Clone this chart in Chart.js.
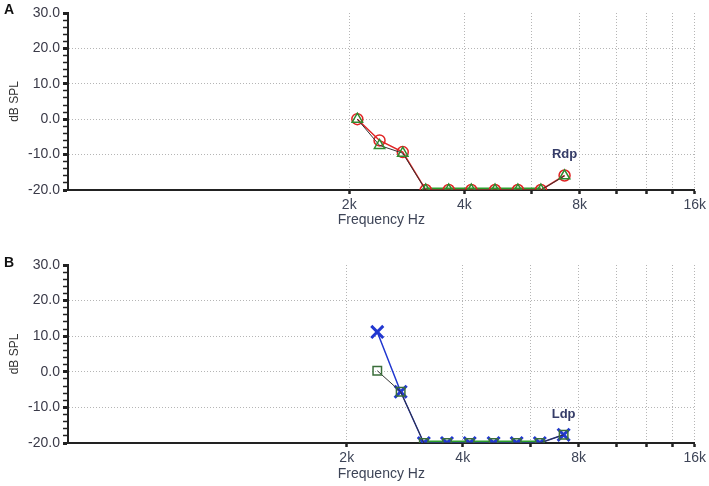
<!DOCTYPE html>
<html>
<head>
<meta charset="utf-8">
<script src="https://cdn.jsdelivr.net/npm/chart.js@4.4.1/dist/chart.umd.min.js"></script>
<style>
  html, body { margin: 0; padding: 0; background: #fff; }
  body { width: 709px; height: 486px; position: relative; overflow: hidden; font-family: "Liberation Sans", Arial, sans-serif; }
  .panel { position: absolute; left: 0; width: 709px; height: 243px; }
  .tag { position: absolute; left: 4px; font-weight: bold; font-size: 14px; line-height: 14px; color: #111; }
</style>
</head>
<body>
<div class="panel" style="top:0"><canvas id="chartA" width="709" height="243"></canvas></div>
<div class="panel" style="top:243px"><canvas id="chartB" width="709" height="243"></canvas></div>
<div class="tag" style="top:2px">A</div>
<div class="tag" style="top:255px">B</div>
<script>
// パネルA: 周波数 (Hz) と dB SPL
const freqA   = [2100, 2400, 2760, 3170, 3640, 4170, 4810, 5520, 6340, 7310];
const rightA  = [0, -6, -9.3, -20, -20, -20, -20, -20, -20, -15.9];
const leftA   = [0, -7.4, -9.6, -20, -20, -20, -20, -20, -20, -16];
const floorFreqA = [3170, 3640, 4170, 4810, 5520, 6340];
const floorA     = [-20, -20, -20, -20, -20, -20];

// パネルB
const freqB   = [2400, 2760, 3170, 3640, 4170, 4810, 5520, 6340, 7310];
const crossB  = [11.2, -5.6, -20, -20, -20, -20, -20, -20, -17.7];
const squareB = [0.3, -5.6, -20, -20, -20, -20, -20, -20, -17.7];
const floorFreqB = [3170, 3640, 4170, 4810, 5520, 6340];
const floorB     = [-20, -20, -20, -20, -20, -20];

// 軸の目盛り
const xTicks      = [2000, 4000, 6000, 8000, 10000, 12000, 14000, 16000];
const xTickLabels = ['2k', '4k', '', '8k', '', '', '', '16k'];

const FONT = '"Liberation Sans", Arial, sans-serif';
const toPoints = (xs, ys) => xs.map((x, i) => ({ x, y: ys[i] }));

// 最後の点の上にラベル文字を描く
const tagPlugin = {
  id: 'pointTag',
  afterDatasetsDraw(chart, args, opts) {
    if (!opts.text) return;
    const { ctx, scales: { x, y } } = chart;
    ctx.save();
    ctx.font = 'bold 13px ' + FONT;
    ctx.fillStyle = '#353c68';
    ctx.textAlign = 'center';
    ctx.textBaseline = 'middle';
    ctx.fillText(opts.text, x.getPixelForValue(opts.x), y.getPixelForValue(opts.y));
    ctx.restore();
  },
};

function makePanel(canvasId, datasets, p) {
  return new Chart(document.getElementById(canvasId), {
    type: 'line',
    data: { datasets },
    plugins: [tagPlugin],
    options: {
      responsive: false,
      animation: false,
      devicePixelRatio: 1,
      layout: { padding: { top: p.top, right: p.right, left: 0, bottom: 0 } },
      plugins: {
        legend: { display: false },
        tooltip: { enabled: false },
        pointTag: { text: p.tag, x: p.tagX, y: p.tagY },
      },
      scales: {
        x: {
          type: 'logarithmic',
          min: p.xMin,
          max: 16000,
          afterBuildTicks: (s) => { s.ticks = xTicks.map((v) => ({ value: v })); },
          afterFit: (s) => { s.height = p.xHeight; },
          ticks: {
            autoSkip: false,
            maxRotation: 0,
            padding: 3,
            color: '#3d4457',
            font: { family: FONT, size: 14 },
            callback: (v, i) => xTickLabels[i],
          },
          grid: { color: '#b5b5b5', lineWidth: 1, tickColor: '#222', tickLength: 4, tickWidth: 2.5 },
          border: { color: '#222', width: 2, dash: [1, 2] },
          title: {
            display: true, text: 'Frequency Hz', color: '#3d4457',
            font: { family: FONT, size: 14 }, padding: { top: 0, bottom: p.titlePad },
          },
        },
        y: {
          min: -20,
          max: 30,
          afterFit: (s) => { s.width = 68; },
          ticks: {
            stepSize: 2,
            autoSkip: false,
            padding: 3,
            color: '#3a3a48',
            font: { family: FONT, size: 14 },
            callback: (v) => (v % 10 === 0 ? v.toFixed(1) : ''),
          },
          grid: {
            color: (c) => (c.tick && c.tick.value % 10 === 0 && c.tick.value > -20 && c.tick.value < 30 ? '#b5b5b5' : 'transparent'),
            tickColor: '#222', tickLength: 5,
            tickWidth: (c) => (c.tick && c.tick.value % 10 === 0 ? 3 : 1.5),
          },
          border: { color: '#222', width: 2, dash: [1, 2] },
          title: {
            display: true, text: 'dB SPL', color: '#333',
            font: { family: FONT, size: 12 }, padding: { top: 7, bottom: 0 },
          },
        },
      },
    },
  });
}

makePanel('chartA', [
  {
    data: toPoints(freqA, leftA), clip: 0,
    borderColor: '#333', borderWidth: 1,
    pointStyle: 'triangle', pointRadius: 6, pointBorderWidth: 1.5,
    pointBorderColor: '#2e8b2e', pointBackgroundColor: 'rgba(0,0,0,0)',
  },
  {
    data: toPoints(freqA, rightA), clip: 0,
    borderColor: '#e02424', borderWidth: 1.5,
    pointStyle: 'circle', pointRadius: 5.5, pointBorderWidth: 1.5,
    pointBorderColor: '#e02424', pointBackgroundColor: 'rgba(0,0,0,0)',
  },
  {
    data: toPoints(floorFreqA, floorA), clip: 0,
    borderColor: '#2ca02c', borderWidth: 5, pointRadius: 0,
  },
], { top: 13, right: 12, xMin: 368, xHeight: 53, titlePad: 14, tag: 'Rdp', tagX: 7310, tagY: -10 });

makePanel('chartB', [
  {
    data: toPoints(freqB, squareB), clip: 0,
    borderColor: '#333', borderWidth: 1,
    pointStyle: 'rect', pointRadius: 6, pointBorderWidth: 1.5,
    pointBorderColor: '#3a6e3a', pointBackgroundColor: 'rgba(0,0,0,0)',
  },
  {
    data: toPoints(freqB, crossB), clip: 0,
    borderColor: '#2238d0', borderWidth: 1.5,
    pointStyle: 'crossRot', pointRadius: 8.5, pointBorderWidth: 3,
    pointBorderColor: '#2238d0',
  },
  {
    data: toPoints(floorFreqB, floorB), clip: 0,
    borderColor: '#2ca02c', borderWidth: 5, pointRadius: 0,
  },
], { top: 22, right: 13, xMin: 378, xHeight: 43, titlePad: 3, tag: 'Ldp', tagX: 7310, tagY: -12 });
</script>
</body>
</html>
